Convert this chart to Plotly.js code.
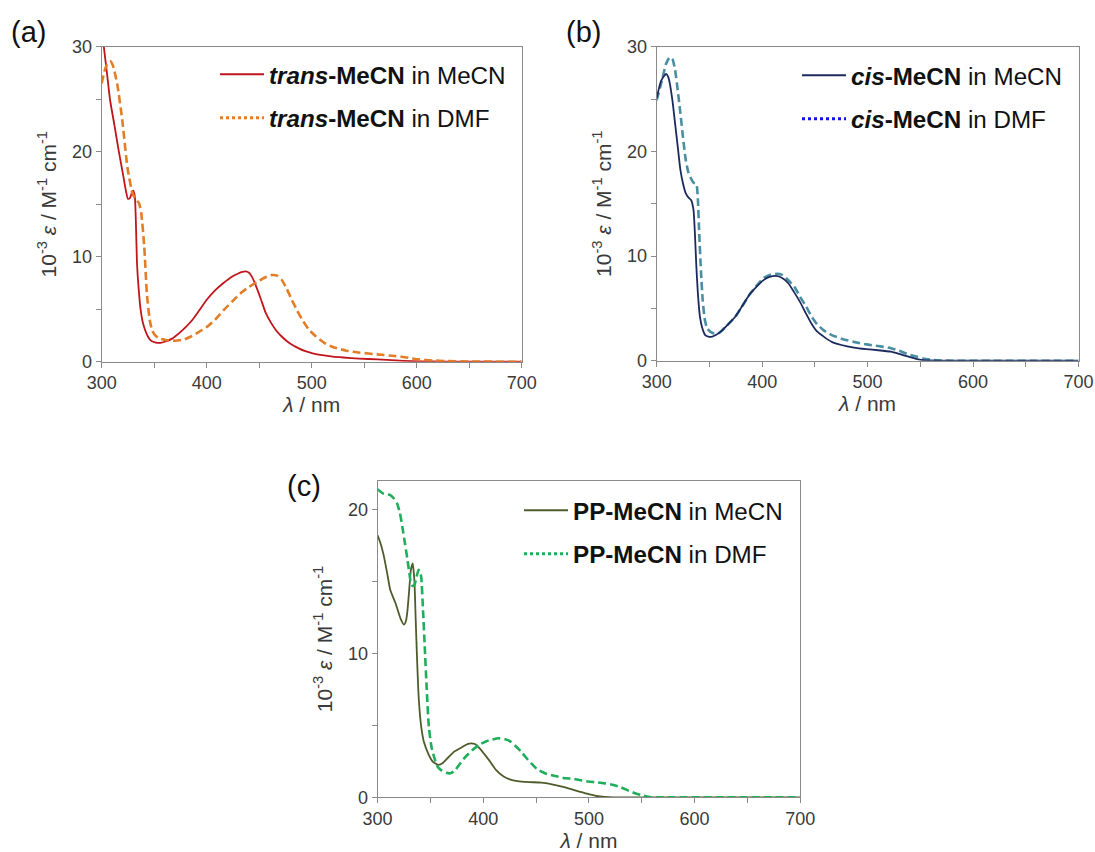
<!DOCTYPE html>
<html>
<head>
<meta charset="utf-8">
<script src="https://cdn.plot.ly/plotly-3.0.1.min.js"></script>
<style>html,body{margin:0;padding:0;background:#fff;}#chart{width:1095px;height:852px;}</style>
</head>
<body>
<div id="chart"></div>
<script>
// ---- Panel (a): trans-MeCN ----
const transMeCN_x = [300, 302, 305, 308, 312, 316, 320, 323, 325, 327, 329, 330, 331.5, 332.5, 333.6, 335, 337, 339, 341.4, 344, 346.3, 349, 352.6, 356, 360, 367, 373.5, 380, 386.5, 393, 400, 408, 416, 424, 430, 434, 437, 440, 443, 447, 451.8, 456, 461.6, 466, 471.4, 479, 487.7, 494, 501, 510, 520, 530, 545, 563, 580, 595, 615, 640, 700];
const transMeCN_y = [31.8, 30.0, 27.5, 24.9, 22.6, 20.2, 18.0, 16.3, 15.5, 15.6, 16.2, 16.3, 15.8, 13.5, 9.4, 7.2, 5.0, 3.8, 3.0, 2.4, 2.06, 1.9, 1.8, 1.8, 1.9, 2.2, 2.7, 3.3, 4.0, 4.9, 5.9, 6.8, 7.5, 8.1, 8.4, 8.55, 8.6, 8.5, 8.1, 7.2, 5.9, 4.7, 3.65, 3.0, 2.4, 1.75, 1.27, 1.0, 0.8, 0.62, 0.48, 0.4, 0.3, 0.22, 0.12, 0.06, 0.02, 0, 0];
const transDMF_x = [300, 303, 306, 308.5, 311, 314.7, 319.6, 324.5, 329.4, 333, 335.5, 337.6, 340.5, 343, 345.7, 348, 351, 355, 362, 370, 378, 385, 392, 400, 408, 416, 424, 432, 440, 448, 455, 461.6, 467, 471.4, 476, 481, 486, 491, 497, 504, 512, 520, 533, 546, 562, 579, 592, 602, 615, 628, 650, 700];
const transDMF_y = [26.5, 27.8, 28.5, 28.6, 28.1, 26.5, 23.0, 18.5, 16.0, 15.4, 15.1, 14.2, 11.0, 6.5, 4.0, 3.0, 2.5, 2.2, 2.05, 2.0, 2.1, 2.4, 2.8, 3.3, 4.0, 4.9, 5.7, 6.5, 7.1, 7.6, 8.0, 8.25, 8.2, 7.8, 7.0, 5.9, 4.9, 4.0, 3.1, 2.4, 1.8, 1.4, 1.05, 0.86, 0.7, 0.54, 0.38, 0.22, 0.12, 0.06, 0.01, 0];

// ---- Panel (b): cis-MeCN ----
const cisMeCN_x = [300, 304, 307, 309, 311, 312.4, 315, 317.4, 320, 322.5, 325, 327.5, 330, 332.6, 334.9, 336.3, 337.6, 339, 341, 343, 346, 349, 352.7, 356, 361, 367, 374.5, 381, 387.9, 395, 401.3, 407, 413.1, 419, 424.8, 430, 436, 441.6, 447, 452, 458.4, 466, 475.2, 487, 498.7, 510, 522.1, 530, 538.9, 546, 552.3, 560, 570, 700];
const cisMeCN_y = [25.1, 26.7, 27.2, 27.4, 27.1, 26.5, 24.8, 22.7, 20.4, 18.2, 16.9, 16.0, 15.6, 15.35, 14.4, 12.0, 9.0, 6.5, 4.2, 3.2, 2.45, 2.3, 2.3, 2.45, 2.8, 3.4, 4.2, 5.2, 6.3, 7.1, 7.7, 8.0, 8.1, 7.9, 7.4, 6.6, 5.6, 4.5, 3.5, 2.8, 2.3, 1.8, 1.5, 1.25, 1.1, 1.0, 0.86, 0.65, 0.38, 0.18, 0.06, 0.02, 0, 0];
const cisDMF_x = [300, 303, 305.7, 309, 312.4, 315, 317.4, 320, 322.5, 325, 327.5, 330, 332.6, 335, 337.6, 339, 340.3, 342, 343.6, 345.5, 347.7, 351, 354.4, 358, 361, 367, 374.5, 381, 387.9, 395, 401.3, 408, 414.1, 419, 424.8, 431, 436, 441.6, 447, 452, 458.4, 466, 475.2, 487, 498.7, 510, 522.1, 530, 538.9, 546, 552.3, 562.4, 580, 700];
const cisDMF_y = [24.9, 26.0, 27.1, 28.4, 29.0, 28.8, 27.8, 25.8, 23.6, 21.3, 19.2, 18.0, 17.4, 17.0, 16.9, 15.5, 12.2, 8.5, 5.8, 4.0, 3.1, 2.75, 2.6, 2.6, 2.8, 3.4, 4.2, 5.2, 6.3, 7.2, 7.9, 8.2, 8.3, 8.2, 7.7, 7.0, 6.1, 5.2, 4.2, 3.5, 2.9, 2.45, 2.1, 1.8, 1.56, 1.4, 1.2, 0.95, 0.6, 0.4, 0.22, 0.06, 0, 0];

// ---- Panel (c): PP-MeCN ----
const ppMeCN_x = [300, 302.5, 305.5, 309, 312, 316.9, 321.8, 325, 327, 328.3, 330, 331.5, 333.2, 334.8, 336, 337.4, 339, 341.3, 344, 347.8, 352, 357.6, 362, 367.3, 373, 380.3, 385, 388.5, 392, 396.6, 401, 406.3, 412, 419.3, 425, 432.4, 443, 455.1, 465, 474.6, 483, 490.9, 499, 507.2, 515, 523.4, 700];
const ppMeCN_y = [18.2, 17.7, 16.9, 15.6, 14.4, 13.5, 12.4, 12.0, 12.3, 13.0, 14.5, 15.8, 16.25, 15.1, 12.5, 9.5, 6.8, 4.9, 3.8, 3.06, 2.5, 2.25, 2.4, 2.8, 3.2, 3.5, 3.7, 3.75, 3.7, 3.4, 3.0, 2.5, 1.9, 1.44, 1.25, 1.13, 1.06, 1.02, 0.9, 0.74, 0.57, 0.4, 0.23, 0.09, 0.03, 0, 0];
const ppDMF_x = [300, 302.5, 305.5, 309, 312, 315, 318.5, 321, 323.4, 326, 328.3, 330, 331.5, 333, 334.8, 336.5, 338.7, 340, 341.3, 343, 344.6, 346.5, 348.5, 351, 354.3, 357, 360.8, 365, 369, 373, 377.1, 383, 390.1, 396, 403.1, 408, 414.5, 420, 425.9, 430, 435.6, 440, 445.4, 451, 458.4, 467, 477.9, 484, 490.9, 499, 507.2, 515, 523.4, 530, 536.4, 543, 549.4, 555, 559.2, 565, 700];
const ppDMF_y = [21.4, 21.25, 21.1, 21.05, 21.0, 20.8, 20.4, 19.8, 18.8, 17.6, 16.5, 15.6, 14.9, 14.7, 14.75, 15.2, 15.8, 15.7, 15.3, 13.0, 10.5, 7.5, 4.9, 3.5, 2.6, 2.1, 1.85, 1.7, 1.67, 1.85, 2.25, 2.8, 3.3, 3.65, 3.9, 4.0, 4.1, 4.05, 3.87, 3.6, 3.2, 2.8, 2.36, 1.95, 1.67, 1.5, 1.32, 1.3, 1.2, 1.1, 1.04, 0.97, 0.86, 0.7, 0.5, 0.3, 0.16, 0.06, 0, 0, 0];

const names = {
  tM: '<b><i>trans</i>-MeCN</b> in MeCN', tD: '<b><i>trans</i>-MeCN</b> in DMF',
  cM: '<b><i>cis</i>-MeCN</b> in MeCN', cD: '<b><i>cis</i>-MeCN</b> in DMF',
  pM: '<b>PP-MeCN</b> in MeCN', pD: '<b>PP-MeCN</b> in DMF'
};
const col = {red:'#C0151B', orange:'#E37D27', navy:'#1B2A5E', teal:'#4A8EA2', blue:'#1010E8', olive:'#4E5C2C', green:'#1FAE5A'};
const FONT = 'Liberation Sans, Arial, sans-serif';

function tr(x, y, xa, ya, color, width, dash, name, legend, show, group) {
  return {x, y, xaxis: xa, yaxis: ya, type: 'scatter', mode: 'lines', name,
    line: {color, width, dash, shape: 'spline', smoothing: 0.5},
    legend, showlegend: show, legendgroup: group, hoverinfo: 'skip'};
}
function dummy(color, name, legend, group) {
  return {x: [null], y: [null], type: 'scatter', mode: 'lines', name,
    line: {color, width: 3, dash: '3px,3px'}, legend, showlegend: true, legendgroup: group,
    xaxis: legend === 'legend' ? 'x' : (legend === 'legend2' ? 'x2' : 'x3'),
    yaxis: legend === 'legend' ? 'y' : (legend === 'legend2' ? 'y2' : 'y3')};
}

const data = [
  tr(transMeCN_x, transMeCN_y, 'x', 'y', col.red, 1.8, 'solid', names.tM, 'legend', true, 'a1'),
  tr(transDMF_x, transDMF_y, 'x', 'y', col.orange, 2.6, '8px,4px', names.tD, 'legend', false, 'a2'),
  dummy(col.orange, names.tD, 'legend', 'a2'),
  tr(cisDMF_x, cisDMF_y, 'x2', 'y2', col.teal, 2.6, '8px,4px', names.cD, 'legend2', false, 'b2'),
  tr(cisMeCN_x, cisMeCN_y, 'x2', 'y2', col.navy, 1.8, 'solid', names.cM, 'legend2', true, 'b1'),
  dummy(col.blue, names.cD, 'legend2', 'b2'),
  tr(ppMeCN_x, ppMeCN_y, 'x3', 'y3', col.olive, 1.8, 'solid', names.pM, 'legend3', true, 'c1'),
  tr(ppDMF_x, ppDMF_y, 'x3', 'y3', col.green, 2.6, '8px,4px', names.pD, 'legend3', false, 'c2'),
  dummy(col.green, names.pD, 'legend3', 'c2')
];

const W = 1095, H = 852;
function px(v){ return v / W; }
function py(v){ return 1 - v / H; }

function xax(d0, d1, anchor) {
  return {domain: [px(d0), px(d1)], anchor, range: [300, 700], dtick: 100, tick0: 300,
    ticks: 'outside', ticklen: 5, tickcolor: '#8a8a8a', showline: true, linecolor: '#8a8a8a', linewidth: 1,
    mirror: true, showgrid: false, zeroline: false,
    minor: {dtick: 50, ticks: 'outside', ticklen: 5, tickcolor: '#8a8a8a', showgrid: false},
    tickfont: {family: FONT, size: 18, color: '#3a3a3a'},
    title: {text: '<i>λ</i> / nm', font: {family: FONT, size: 21, color: '#3a3a3a'}, standoff: 0}};
}
function yax(d0, d1, anchor, ymax) {
  return {domain: [py(d1), py(d0)], anchor, range: [0, ymax], dtick: 10, tick0: 0,
    ticks: 'outside', ticklen: 5, tickcolor: '#8a8a8a', showline: true, linecolor: '#8a8a8a', linewidth: 1,
    mirror: true, showgrid: false, zeroline: false,
    minor: {dtick: 5, ticks: 'outside', ticklen: 5, tickcolor: '#8a8a8a', showgrid: false},
    tickfont: {family: FONT, size: 18, color: '#3a3a3a'},
    title: {text: '10<sup>-3</sup> <i>ε</i> / M<sup>-1</sup> cm<sup>-1</sup>', font: {family: FONT, size: 21, color: '#3a3a3a'}, standoff: 9}};
}
function leg(xp, yp) {
  return {x: px(xp), y: py(yp), xanchor: 'left', yanchor: 'top', bgcolor: 'rgba(0,0,0,0)',
    font: {family: FONT, size: 24.2, color: '#111'}, itemwidth: 44, traceorder: 'grouped', tracegroupgap: 9,
    itemclick: false, itemdoubleclick: false};
}

const layout = {
  width: W, height: H, margin: {l: 0, r: 0, t: 0, b: 0}, paper_bgcolor: '#fff', plot_bgcolor: '#fff',
  font: {family: FONT},
  xaxis: xax(101.7, 521.7, 'y'), yaxis: yax(46.7, 361.7, 'x', 30),
  xaxis2: xax(656.7, 1078.5, 'y2'), yaxis2: yax(46.7, 360.7, 'x2', 30),
  xaxis3: xax(377.6, 800.2, 'y3'), yaxis3: yax(480.7, 797.3, 'x3', 22),
  legend: leg(215, 52), legend2: leg(797, 53), legend3: leg(519, 488),
  annotations: [
    {text: '(a)', x: px(9), y: py(32), xref: 'paper', yref: 'paper', xanchor: 'left', yanchor: 'middle', showarrow: false, font: {family: FONT, size: 29, color: '#111'}},
    {text: '(b)', x: px(564), y: py(32), xref: 'paper', yref: 'paper', xanchor: 'left', yanchor: 'middle', showarrow: false, font: {family: FONT, size: 29, color: '#111'}},
    {text: '(c)', x: px(285), y: py(486), xref: 'paper', yref: 'paper', xanchor: 'left', yanchor: 'middle', showarrow: false, font: {family: FONT, size: 29, color: '#111'}}
  ]
};

Plotly.newPlot('chart', data, layout, {staticPlot: true, displayModeBar: false});
</script>
</body>
</html>
